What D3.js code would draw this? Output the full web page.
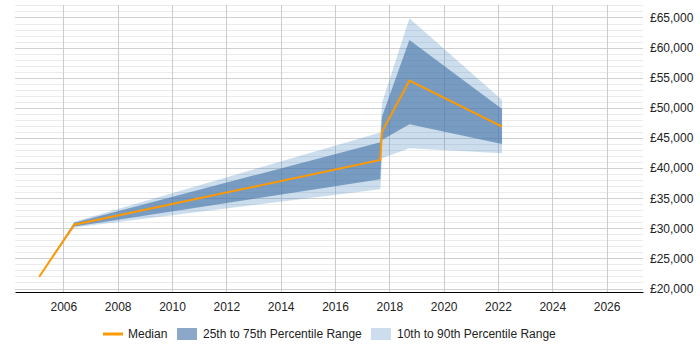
<!DOCTYPE html>
<html>
<head>
<meta charset="utf-8">
<script src="https://cdn.jsdelivr.net/npm/d3@7"></script>
<style>
  body { margin: 0; background: #fff; }
  #chart { width: 700px; height: 350px; }
</style>
</head>
<body>
<div id="chart"></div>
<script>
// values
const years  = [2005.11, 2006.40, 2017.67, 2017.73, 2018.74, 2022.15];
const median = [21950, 30590, 41340, 46040, 54510, 46870];
const p10    = [21950, 30150, 36470, 41620, 43300, 42450];
const p25    = [21950, 30300, 38130, 44660, 47270, 44000];
const p75    = [21950, 30930, 44300, 48530, 61265, 49800];
const p90    = [21950, 31100, 45900, 50800, 64870, 51300];

const yearTicks   = [2006, 2008, 2010, 2012, 2014, 2016, 2018, 2020, 2022, 2024, 2026];
const salaryTicks = [20000, 25000, 30000, 35000, 40000, 45000, 50000, 55000, 60000, 65000];
const legendLabels = ["Median", "25th to 75th Percentile Range", "10th to 90th Percentile Range"];

const width = 700, height = 350;
const plotLeft = 15, plotRight = 643, plotTop = 5, plotBottom = 292;
const innerColor = "#4472a8", outerColor = "#337ab7";
const innerOpacity = 0.62, outerOpacity = 0.25;
const orange = "#ff9900";
const fontFamily = "'Liberation Sans', Arial, sans-serif";

const rows = years.map((yr, i) => ({
  year: yr, median: median[i], p10: p10[i], p25: p25[i], p75: p75[i], p90: p90[i]
}));

const x = d3.scaleLinear().domain([2004.22, 2027.34]).range([plotLeft, plotRight]);
const y = d3.scaleLinear().domain([19420, 67075]).range([plotBottom, plotTop]);

const svg = d3.select("#chart")
  .append("svg")
    .attr("width", width)
    .attr("height", height)
    .style("font-family", fontFamily)
    .style("font-size", "12px");

// minor grid every 1000
svg.append("g")
  .selectAll("line")
  .data(d3.range(20000, 67001, 1000).filter(v => v % 5000 != 0))
  .enter().append("line")
    .attr("x1", plotLeft).attr("x2", plotRight)
    .attr("y1", d => Math.round(y(d)) + 0.5)
    .attr("y2", d => Math.round(y(d)) + 0.5)
    .attr("stroke", "#ebebeb");

// major horizontal grid
svg.append("g")
  .selectAll("line")
  .data(salaryTicks)
  .enter().append("line")
    .attr("x1", plotLeft).attr("x2", plotRight)
    .attr("y1", d => Math.round(y(d)) + 0.5)
    .attr("y2", d => Math.round(y(d)) + 0.5)
    .attr("stroke", "#d0d0d0");

// vertical grid
svg.append("g")
  .selectAll("line")
  .data(yearTicks)
  .enter().append("line")
    .attr("x1", d => Math.round(x(d)) + 0.5)
    .attr("x2", d => Math.round(x(d)) + 0.5)
    .attr("y1", plotTop).attr("y2", plotBottom)
    .attr("stroke", "#cccccc");

// bands
const band = (lo, hi) => d3.area()
  .x(d => x(d.year))
  .y0(d => y(d[lo]))
  .y1(d => y(d[hi]));

svg.append("path")
  .datum(rows)
  .attr("d", band("p10", "p90"))
  .attr("fill", outerColor)
  .attr("fill-opacity", outerOpacity);

svg.append("path")
  .datum(rows)
  .attr("d", band("p25", "p75"))
  .attr("fill", innerColor)
  .attr("fill-opacity", innerOpacity);

svg.append("path")
  .datum(rows)
  .attr("d", d3.line().x(d => x(d.year)).y(d => y(d.median)))
  .attr("fill", "none")
  .attr("stroke", orange)
  .attr("stroke-width", 2);

// x axis
const xAxis = svg.append("g")
  .attr("transform", "translate(0," + plotBottom + ")")
  .call(d3.axisBottom(x).tickValues(yearTicks).tickFormat(d3.format("d")).tickSize(0).tickPadding(10));
xAxis.select(".domain").attr("stroke", "#000").attr("stroke-width", 1.2);
xAxis.selectAll("text").attr("fill", "#222").style("font-size", "12px").style("font-family", fontFamily);

// y axis on the right
const yAxis = svg.append("g")
  .attr("transform", "translate(" + (plotRight + 7) + ",0)")
  .call(d3.axisRight(y).tickValues(salaryTicks).tickFormat(d => "£" + d3.format(",")(d)).tickSize(0).tickPadding(0));
yAxis.select(".domain").remove();
yAxis.selectAll("text").attr("fill", "#222").style("font-size", "12px").style("font-family", fontFamily);

// legend
const legend = svg.append("g").attr("transform", "translate(0,334)");

legend.append("line")
  .attr("x1", 103).attr("x2", 123)
  .attr("stroke", orange).attr("stroke-width", 3);
legend.append("rect")
  .attr("x", 177).attr("y", -6).attr("width", 20).attr("height", 12)
  .attr("fill", innerColor).attr("fill-opacity", innerOpacity);
legend.append("rect")
  .attr("x", 371).attr("y", -6).attr("width", 20).attr("height", 12)
  .attr("fill", outerColor).attr("fill-opacity", outerOpacity);

legend.selectAll("text")
  .data(legendLabels)
  .enter().append("text")
    .attr("x", (d, i) => [128, 203, 397][i])
    .attr("dy", "0.35em")
    .attr("fill", "#222")
    .text(d => d);
</script>
</body>
</html>
